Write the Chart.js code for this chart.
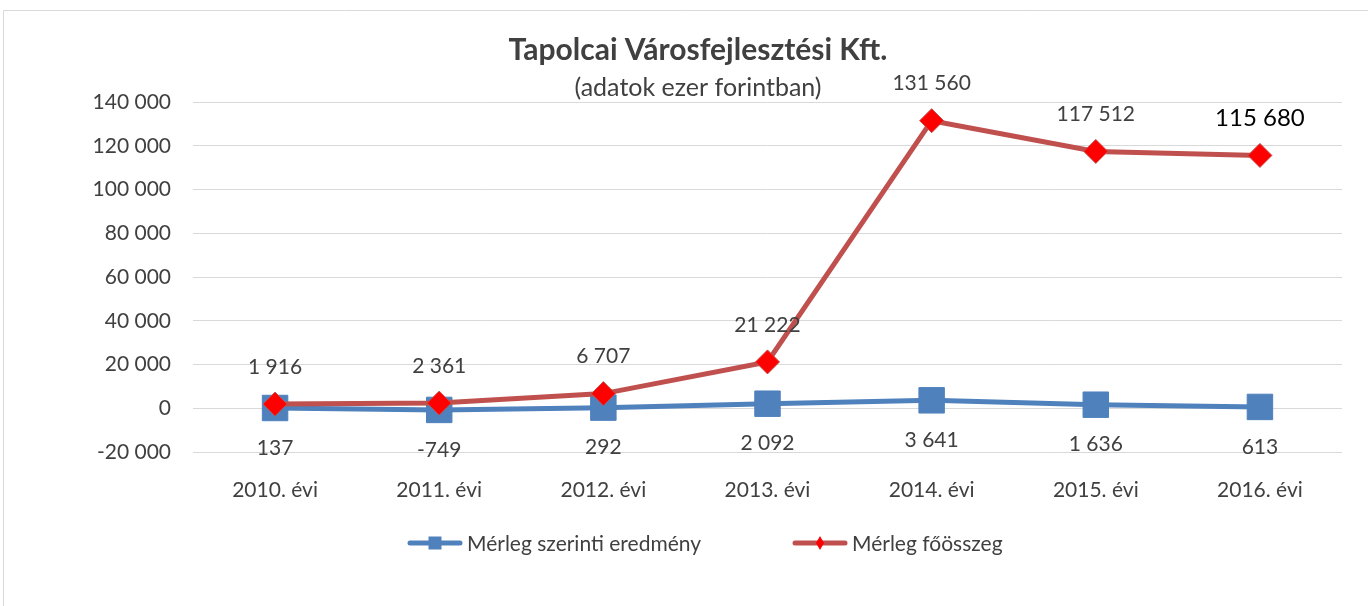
<!DOCTYPE html>
<html><head><meta charset="utf-8">
<script src="https://cdn.jsdelivr.net/npm/chart.js@4.4.1/dist/chart.umd.min.js"></script>
<style>html,body{margin:0;padding:0;background:#fff;overflow:hidden}#wrap{position:absolute;left:0;top:0;width:1368px;height:606px}</style>
</head><body><div id="wrap"><canvas id="c" width="1368" height="606"></canvas></div>
<script>
const categories = ['2010. évi','2011. évi','2012. évi','2013. évi','2014. évi','2015. évi','2016. évi'];
const eredmeny = [137, -749, 292, 2092, 3641, 1636, 613];
const foosszeg = [1916, 2361, 6707, 21222, 131560, 117512, 115680];
const seriesNames = ['Mérleg szerinti eredmény', 'Mérleg főösszeg'];
const yMin = -20000, yMax = 140000, yStep = 20000;
const titleText = 'Tapolcai Városfejlesztési Kft.';
const subtitleText = '(adatok ezer forintban)';

const FONT = 'Lato';
const TXT = '#404040';
const BLUE = '#4F81BD', RED = '#C0504D', MARK_RED = '#FF0000';

function fmt(n){
  const s = String(Math.abs(Math.round(n))).replace(/\B(?=(\d{3})+(?!\d))/g, ' ');
  return (n < 0 ? '-' : '') + s;
}

const borderPlugin = {
  id: 'frame',
  beforeDraw(chart){
    const c = chart.ctx;
    c.save();
    c.fillStyle = '#fff';
    c.fillRect(0,0,chart.width,chart.height);
    c.strokeStyle = '#d9d9d9';
    c.lineWidth = 1;
    c.beginPath();
    c.moveTo(3.5, chart.height); c.lineTo(3.5, 10.5); c.lineTo(chart.width, 10.5);
    c.stroke();
    c.restore();
  }
};

const labelPlugin = {
  id: 'dlabels',
  afterDatasetsDraw(chart){
    const c = chart.ctx;
    c.save();
    c.textAlign = 'center';
    c.textBaseline = 'middle';
    chart.data.datasets.forEach((ds, di) => {
      const meta = chart.getDatasetMeta(di);
      meta.data.forEach((pt, i) => {
        const v = ds.data[i];
        const above = di === 1;
        const last = above && i === ds.data.length - 1;
        c.font = (last ? '24px ' : '21px ') + FONT;
        c.fillStyle = last ? '#000' : TXT;
        const y = above ? pt.y - 37 : pt.y + 40;
        c.fillText(fmt(v), pt.x, y);
      });
    });
    c.restore();
  }
};

const legendPlugin = {
  id: 'customLegend',
  afterDraw(chart){
    const c = chart.ctx;
    const y = 543;
    const starts = [408, 793];
    c.save();
    c.font = '21px ' + FONT;
    c.textBaseline = 'middle';
    c.textAlign = 'left';
    chart.data.datasets.forEach((ds, di) => {
      const x0 = starts[di];
      c.strokeStyle = ds.borderColor;
      c.lineWidth = 5;
      c.lineCap = 'round';
      c.beginPath(); c.moveTo(x0 + 2, y); c.lineTo(x0 + 52, y); c.stroke();
      const cx = x0 + 27;
      if (di === 0){
        c.fillStyle = ds.pointBackgroundColor;
        c.fillRect(cx - 6.5, y - 6.5, 13, 13);
      } else {
        c.fillStyle = ds.pointBackgroundColor;
        c.beginPath();
        c.moveTo(cx, y - 7); c.lineTo(cx + 4, y); c.lineTo(cx, y + 7); c.lineTo(cx - 4, y); c.closePath();
        c.fill();
      }
      c.fillStyle = TXT;
      c.fillText(ds.label, x0 + 59, y + 1);
    });
    c.restore();
  }
};

Chart.defaults.font.family = FONT;
Chart.defaults.color = TXT;

new Chart(document.getElementById('c'), {
  type: 'line',
  data: {
    labels: categories,
    datasets: [
      {
        label: seriesNames[0], data: eredmeny, order: 1,
        borderColor: BLUE, borderWidth: 5, tension: 0,
        pointStyle: 'rect', pointRadius: 18, pointHoverRadius: 18,
        pointBackgroundColor: BLUE, pointBorderColor: BLUE, pointBorderWidth: 1
      },
      {
        label: seriesNames[1], data: foosszeg, order: 0,
        borderColor: RED, borderWidth: 5, tension: 0,
        pointStyle: 'rectRot', pointRadius: 12, pointHoverRadius: 12,
        pointBackgroundColor: MARK_RED, pointBorderColor: RED, pointBorderWidth: 1
      }
    ]
  },
  options: {
    responsive: false,
    animation: false,
    devicePixelRatio: 1,
    layout: { padding: { left: 54, right: 26, top: 0, bottom: 104 } },
    plugins: {
      legend: { display: false },
      tooltip: { enabled: false },
      title: {
        display: true, text: titleText, color: '#404040',
        font: { size: 30, weight: 'bold', family: FONT, lineHeight: 1.2 },
        padding: { top: 32, bottom: 3 }
      },
      subtitle: {
        display: true, text: subtitleText, color: TXT,
        font: { size: 25, family: FONT, lineHeight: 1.15 },
        padding: { top: 2.5, bottom: 0 }
      }
    },
    scales: {
      x: {
        offset: true,
        grid: { display: false, drawTicks: false },
        border: { display: false },
        ticks: { color: TXT, font: { size: 21 }, padding: 26, maxRotation: 0 },
        afterFit(s){ s.height = 50; }
      },
      y: {
        min: yMin, max: yMax,
        grid: { color: '#d9d9d9', lineWidth: 1, drawTicks: false },
        border: { display: false },
        ticks: { stepSize: yStep, color: TXT, font: { size: 21 }, padding: 22, callback: v => fmt(v) },
        afterFit(s){ s.width = 139; }
      }
    }
  },
  plugins: [borderPlugin, labelPlugin, legendPlugin]
});
</script>
</body></html>
